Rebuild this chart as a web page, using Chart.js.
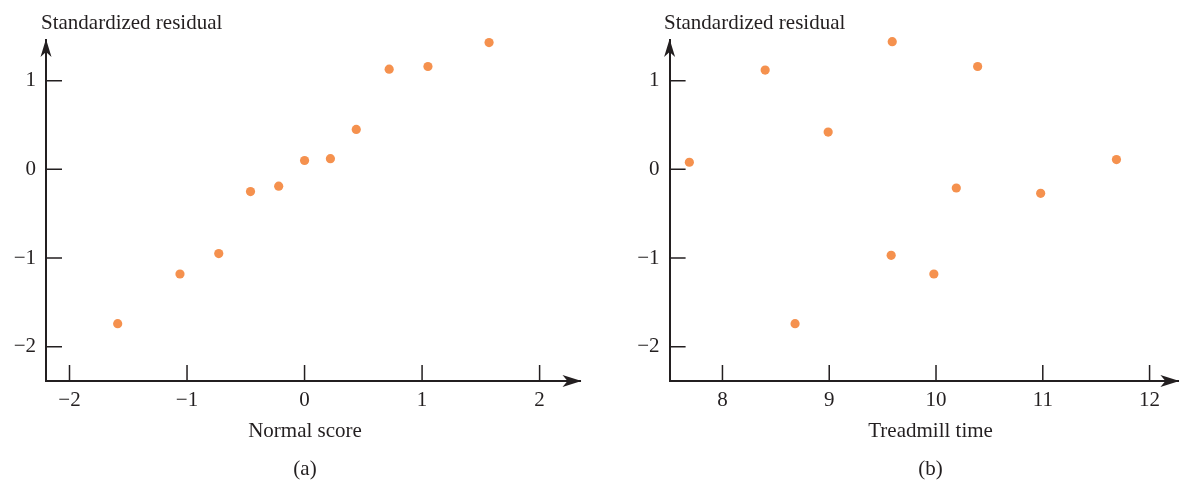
<!DOCTYPE html>
<html>
<head>
<meta charset="utf-8">
<script src="https://cdn.jsdelivr.net/npm/chart.js@4.4.1/dist/chart.umd.min.js"></script>
<style>
    html, body { margin: 0; padding: 0; background: #ffffff; }
    #wrap { position: relative; width: 1183px; height: 480px; }
    #chart-a { position: absolute; left: 0; top: 0; }
    #chart-b { position: absolute; left: 590px; top: 0; }
</style>
</head>
<body>
<div id="wrap">
    <canvas id="chart-a" width="590" height="480"></canvas>
    <canvas id="chart-b" width="593" height="480"></canvas>
</div>
<script>
// (a) residuals against normal scores
const normalScore = [-1.59, -1.06, -0.73, -0.46, -0.22, 0, 0.22, 0.44, 0.72, 1.05, 1.57];
const residualSorted = [-1.74, -1.18, -0.95, -0.25, -0.19, 0.10, 0.12, 0.45, 1.13, 1.16, 1.43];

// (b) residuals against treadmill time
const treadmillTime = [7.69, 8.40, 8.68, 8.99, 9.58, 9.59, 9.98, 10.19, 10.39, 10.98, 11.69];
const residualByTime = [0.08, 1.12, -1.74, 0.42, -0.97, 1.44, -1.18, -0.21, 1.16, -0.27, 0.11];

// tick labels
const normalTicks = [-2, -1, 0, 1, 2];
const timeTicks = [8, 9, 10, 11, 12];
const residualTicks = [-2, -1, 0, 1];

const INK = '#231f20';
const DOT = '#f5914e';
const FONT = '"Liberation Serif", "Times New Roman", serif';

function fmt(v) {
    return v < 0 ? '\u2212' + Math.abs(v) : String(v);
}

// arrows, inward tick marks and the axis titles
const axisDecor = {
    id: 'axisDecor',
    afterDraw(chart, args, opts) {
        const ctx = chart.ctx;
        const area = chart.chartArea;
        const xs = chart.scales.x;
        const ys = chart.scales.y;
        ctx.save();
        ctx.strokeStyle = INK;
        ctx.fillStyle = INK;
        ctx.lineWidth = 1.5;

        // tick marks pointing into the plot
        ctx.beginPath();
        xs.ticks.forEach(t => {
            const px = xs.getPixelForValue(t.value);
            ctx.moveTo(px, area.bottom);
            ctx.lineTo(px, area.bottom - 16);
        });
        ys.ticks.forEach(t => {
            const py = ys.getPixelForValue(t.value);
            ctx.moveTo(area.left, py);
            ctx.lineTo(area.left + 16, py);
        });
        ctx.stroke();

        // arrow on top of y axis
        const ax = area.left;
        const at = area.top - 1;
        ctx.beginPath();
        ctx.moveTo(ax, at);
        ctx.lineTo(ax + 5.5, at + 18);
        ctx.lineTo(ax, at + 13);
        ctx.lineTo(ax - 5.5, at + 18);
        ctx.closePath();
        ctx.fill();

        // arrow at the end of x axis
        const bx = area.right + 1;
        const by = area.bottom;
        ctx.beginPath();
        ctx.moveTo(bx, by);
        ctx.lineTo(bx - 19, by - 6);
        ctx.lineTo(bx - 14, by);
        ctx.lineTo(bx - 19, by + 6);
        ctx.closePath();
        ctx.fill();

        // titles
        ctx.font = '21px ' + FONT;
        ctx.textBaseline = 'alphabetic';
        ctx.textAlign = 'left';
        ctx.fillText(opts.yTitle, opts.yTitleX, 29);
        ctx.textAlign = 'center';
        ctx.fillText(opts.xTitle, opts.xTitleX, 437);
        ctx.fillText(opts.panel, opts.xTitleX, 475);
        ctx.restore();
    }
};

function createPanel(canvasId, xs, ys, cfg) {
    const ctx = document.getElementById(canvasId).getContext('2d');
    return new Chart(ctx, {
        type: 'scatter',
        data: {
            datasets: [{
                data: xs.map((x, i) => ({ x: x, y: ys[i] })),
                backgroundColor: DOT,
                borderWidth: 0,
                pointRadius: 4.6,
                pointHoverRadius: 4.6,
                clip: false
            }]
        },
        options: {
            responsive: false,
            animation: false,
            layout: { padding: { top: 40, right: cfg.padRight, left: 0, bottom: 0 } },
            plugins: {
                legend: { display: false },
                tooltip: { enabled: false },
                axisDecor: {
                    yTitle: 'Standardized residual',
                    yTitleX: cfg.yTitleX,
                    xTitle: cfg.xTitle,
                    xTitleX: cfg.xTitleX,
                    panel: cfg.panel
                }
            },
            scales: {
                x: {
                    type: 'linear',
                    min: cfg.xMin,
                    max: cfg.xMax,
                    afterBuildTicks: s => { s.ticks = cfg.xTicks.map(v => ({ value: v })); },
                    afterFit: s => { s.height = 99; },
                    grid: { display: false, drawTicks: false },
                    border: { display: true, color: INK, width: 2 },
                    ticks: {
                        color: INK,
                        padding: 7,
                        maxRotation: 0,
                        font: { family: FONT, size: 21 },
                        callback: v => fmt(v)
                    }
                },
                y: {
                    type: 'linear',
                    min: -2.387,
                    max: 1.459,
                    afterBuildTicks: s => { s.ticks = residualTicks.map(v => ({ value: v })); },
                    afterFit: s => { s.width = cfg.axisLeft; },
                    grid: { display: false, drawTicks: false },
                    border: { display: true, color: INK, width: 2 },
                    ticks: {
                        color: INK,
                        padding: 10,
                        font: { family: FONT, size: 21 },
                        callback: v => fmt(v)
                    }
                }
            }
        },
        plugins: [axisDecor]
    });
}

createPanel('chart-a', normalScore, residualSorted, {
    xMin: -2.20, xMax: 2.348, xTicks: normalTicks,
    axisLeft: 46, padRight: 9.5,
    yTitleX: 41, xTitle: 'Normal score', xTitleX: 305, panel: '(a)'
});

createPanel('chart-b', treadmillTime, residualByTime, {
    xMin: 7.505, xMax: 12.27, xTicks: timeTicks,
    axisLeft: 79.6, padRight: 1,
    yTitleX: 74, xTitle: 'Treadmill time', xTitleX: 340.6, panel: '(b)'
});
</script>
</body>
</html>
